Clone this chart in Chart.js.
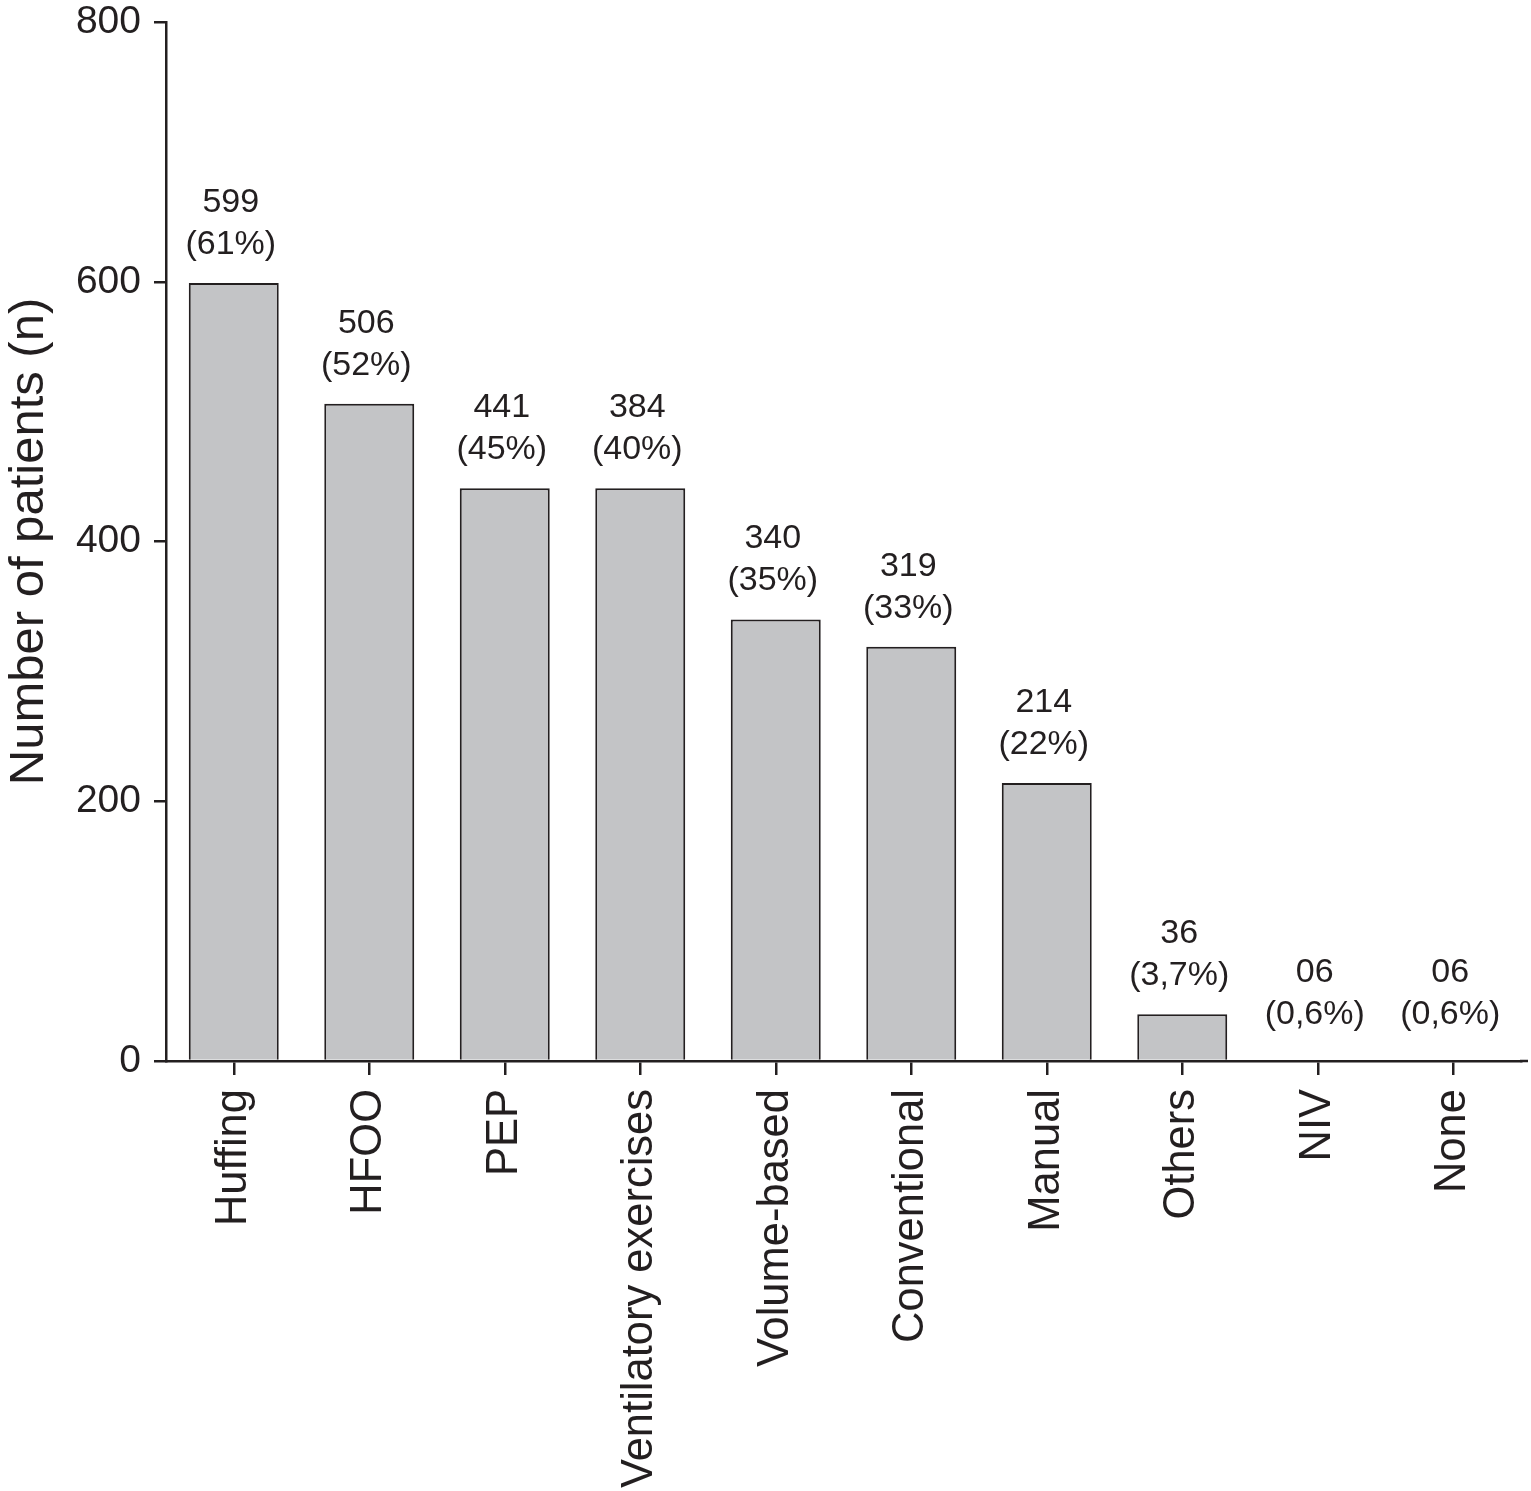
<!DOCTYPE html>
<html>
<head>
<meta charset="utf-8">
<script src="https://cdn.jsdelivr.net/npm/chart.js@4"></script>
<style>
  html, body { margin: 0; padding: 0; background: #fff; }
  #wrap { width: 1531px; height: 1491px; }
</style>
</head>
<body>
<div id="wrap"><canvas id="chart"></canvas></div>
<script>
'use strict';

//colors
var ink = "rgb(35,31,32)";
var barFill = "rgb(195,196,198)";
var fontFamily = "'Liberation Sans', Arial, Helvetica, sans-serif";

//data
var categories = ["Huffing", "HFOO", "PEP", "Ventilatory exercises", "Volume-based",
                  "Conventional", "Manual", "Others", "NIV", "None"];
var barHeights = [599, 506, 441, 441, 340, 319, 214, 36, 0, 0];   //bar heights as drawn
var countLabels = ["599", "506", "441", "384", "340", "319", "214", "36", "06", "06"];
var countValues = [599, 506, 441, 384, 340, 319, 214, 36, 6, 6];
var percentLabels = ["(61%)", "(52%)", "(45%)", "(40%)", "(35%)", "(33%)", "(22%)", "(3,7%)", "(0,6%)", "(0,6%)"];
var yTicks = [0, 200, 400, 600, 800];

//value labels above bars
const valueLabels = {
    id: 'valueLabels',
    afterDatasetsDraw(chart) {
        var ctx = chart.ctx;
        var meta = chart.getDatasetMeta(0);
        var yScale = chart.scales.y;
        ctx.save();
        ctx.fillStyle = ink;
        ctx.font = "34px " + fontFamily;
        ctx.textAlign = "center";
        ctx.textBaseline = "alphabetic";
        meta.data.forEach(function (bar, i) {
            var anchor = yScale.getPixelForValue(Math.max(barHeights[i], countValues[i]));
            ctx.fillText(percentLabels[i], bar.x - 3, anchor - 29);
            ctx.fillText(countLabels[i], bar.x - 3, anchor - 71);
        });
        ctx.restore();
    },
    afterDraw(chart) {
        //x axis line runs a little past the last category
        var ctx = chart.ctx;
        var area = chart.chartArea;
        ctx.save();
        ctx.strokeStyle = ink;
        ctx.lineWidth = 2.5;
        ctx.beginPath();
        ctx.moveTo(area.right - 1, area.bottom);
        ctx.lineTo(1528, area.bottom);
        ctx.stroke();
        ctx.restore();
    }
};

const chartData = {
    labels: categories,
    datasets: [{
        data: barHeights,
        backgroundColor: barFill,
        borderColor: ink,
        borderWidth: 2,
        categoryPercentage: 1,
        barPercentage: 0.664
    }]
};

const chartConfig = {
    type: 'bar',
    data: chartData,
    plugins: [valueLabels],
    options: {
        responsive: true,
        maintainAspectRatio: false,
        animation: false,
        layout: { padding: { top: 22, right: 10, left: 0, bottom: 0 } },
        plugins: {
            legend: { display: false },
            tooltip: { enabled: false }
        },
        scales: {
            x: {
                offset: true,
                afterFit: function (scale) {
                    scale.height = 430;
                    scale.paddingLeft = 0;
                    scale.paddingRight = 0;
                },
                grid: { offset: false, drawOnChartArea: false, tickLength: 14, tickColor: ink, lineWidth: 2.5 },
                border: { color: ink, width: 2.5 },
                ticks: {
                    color: ink,
                    font: { size: 43.5, family: fontFamily },
                    minRotation: 90,
                    maxRotation: 90,
                    padding: 14,
                    autoSkip: false
                }
            },
            y: {
                min: 0,
                max: 800,
                afterFit: function (scale) {
                    scale.width = 166;
                    scale.paddingTop = 0;
                    scale.paddingBottom = 0;
                },
                afterBuildTicks: function (scale) {
                    scale.ticks = yTicks.map(function (v) { return { value: v }; });
                },
                grid: { drawOnChartArea: false, tickLength: 12, tickColor: ink, lineWidth: 2.5 },
                border: { color: ink, width: 2.5 },
                ticks: {
                    color: ink,
                    font: { size: 39, family: fontFamily },
                    padding: 13
                },
                title: {
                    display: true,
                    text: 'Number of patients (n)',
                    color: ink,
                    font: { size: 49, family: fontFamily },
                    padding: { top: 0, bottom: 0 }
                }
            }
        }
    }
};

window.onload = function () {
    new Chart(document.getElementById('chart'), chartConfig);
};
</script>
</body>
</html>
